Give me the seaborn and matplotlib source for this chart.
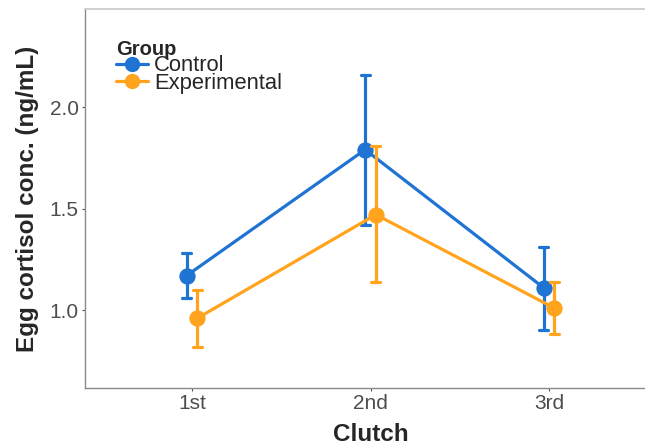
import pandas as pd
import matplotlib
matplotlib.use("Agg")
import matplotlib.pyplot as plt
from matplotlib.lines import Line2D
import seaborn as sns

# Egg cortisol by clutch and group (mean with lower / upper CI)
clutches = ["1st", "2nd", "3rd"]
groups = ["Control", "Experimental"]
control_mean = [1.17, 1.79, 1.11]
control_lo = [1.06, 1.42, 0.90]
control_hi = [1.28, 2.16, 1.31]
exp_mean = [0.96, 1.47, 1.01]
exp_lo = [0.82, 1.14, 0.88]
exp_hi = [1.10, 1.81, 1.14]

colors = {"Control": "#1f73d2", "Experimental": "#ffa41c"}

# long table: three rows per cell (lo, mean, hi) -> median gives mean, min/max give CI
rows = []
for g, m, lo, hi in [("Control", control_mean, control_lo, control_hi),
                     ("Experimental", exp_mean, exp_lo, exp_hi)]:
    for c, a, b, d in zip(clutches, lo, m, hi):
        for v in (a, b, d):
            rows.append({"Clutch": c, "Group": g, "value": v})
df = pd.DataFrame(rows)

sns.set_style("white")
plt.rcParams["font.family"] = ["Liberation Sans", "DejaVu Sans"]

fig = plt.figure(figsize=(6.45, 4.46), dpi=100)
ax = fig.add_axes([85 / 645, 58 / 446, (656 - 85) / 645, (388 - 9) / 446])

sns.pointplot(
    data=df, x="Clutch", y="value", hue="Group",
    order=clutches, hue_order=groups, palette=colors,
    estimator="median", errorbar=lambda v: (v.min(), v.max()),
    dodge=0.06, capsize=0.05, markers="o", linestyles="-",
    markersize=10, linewidth=2.3, err_kws={"linewidth": 2.3},
    ax=ax,
)

ax.set_xlim(-0.6, 2.6)
ax.set_ylim(0.616, 2.483)
ax.set_yticks([1.0, 1.5, 2.0])
ax.set_yticklabels(["1.0", "1.5", "2.0"])

ax.set_xlabel("Clutch", fontsize=17.5, fontweight="bold", labelpad=7)
ax.set_ylabel("Egg cortisol conc. (ng/mL)", fontsize=17.5, fontweight="bold", labelpad=8)
ax.tick_params(axis="both", labelsize=15, labelcolor="#4d4d4d",
               length=2.5, width=0.8, color="#555555", pad=2, direction="out")
ax.tick_params(left=True, bottom=True)

for side in ["left", "bottom"]:
    ax.spines[side].set_color("#8a8a8a")
    ax.spines[side].set_linewidth(1.0)
for side in ["top", "right"]:
    ax.spines[side].set_color("#c8c8c8")
    ax.spines[side].set_linewidth(1.2)

# legend
if ax.get_legend() is not None:
    ax.get_legend().remove()
handles = [Line2D([0], [0], color=colors[g], marker="o", markersize=10, linewidth=2.3)
           for g in groups]
leg = ax.legend(handles, groups, title="Group", loc="upper left",
                bbox_to_anchor=(0.054, 0.919), frameon=False,
                fontsize=15.8, title_fontproperties={"weight": "bold", "size": 14.5},
                handlelength=1.45, handletextpad=0.3, labelspacing=-0.16,
                borderaxespad=0, borderpad=0)
leg._legend_box.align = "left"

fig.savefig("out.png", dpi=100)
